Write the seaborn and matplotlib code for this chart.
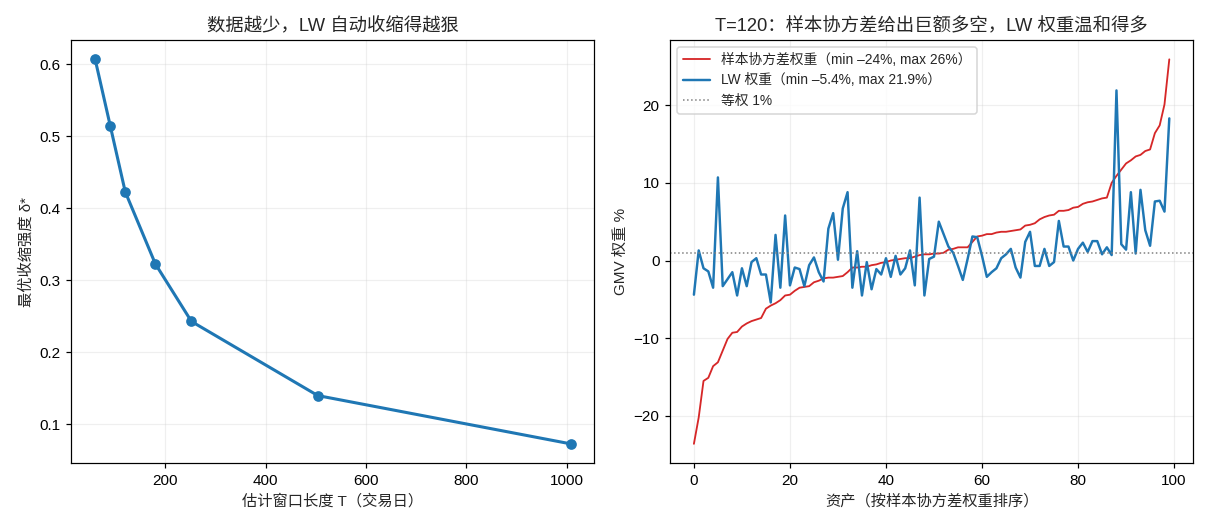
"""
LW shrinkage: intensity vs window length, and GMV weights at T=120
"""

import numpy as np
import pandas as pd
import seaborn as sns
import matplotlib.pyplot as plt

# --- Data ---
window_T = [60, 90, 120, 180, 252, 504, 1008]
delta_star = [0.607, 0.515, 0.423, 0.323, 0.243, 0.140, 0.073]

sample_w = [
    -23.6, -20.2, -15.5, -15.1, -13.6, -13.1, -11.6, -10.1, -9.3, -9.2,
    -8.5, -8.1, -7.8, -7.6, -7.4, -6.2, -5.8, -5.5, -5.1, -4.5,
    -4.4, -3.9, -3.5, -3.4, -3.3, -2.8, -2.6, -2.3, -2.2, -2.2,
    -2.1, -2.0, -1.5, -0.9, -0.9, -0.8, -0.8, -0.6, -0.5, -0.3,
    -0.2, 0.0, 0.1, 0.2, 0.3, 0.3, 0.5, 0.7, 0.8, 0.8,
    0.9, 0.9, 1.0, 1.4, 1.5, 1.7, 1.7, 1.7, 2.4, 3.1,
    3.2, 3.4, 3.4, 3.6, 3.7, 3.7, 3.8, 3.9, 4.0, 4.5,
    4.6, 4.8, 5.3, 5.6, 5.8, 5.9, 6.4, 6.4, 6.5, 6.8,
    6.9, 7.3, 7.5, 7.6, 7.8, 8.0, 8.1, 10.0, 10.9, 11.7,
    12.5, 12.9, 13.4, 13.6, 14.1, 14.3, 16.4, 17.4, 20.1, 25.9,
]
lw_w = [
    -4.4, 1.3, -1.0, -1.4, -3.5, 10.7, -3.3, -2.4, -1.5, -4.5,
    -1.0, -3.3, -0.2, 0.3, -1.8, -1.8, -5.4, 3.3, -3.5, 5.8,
    -3.2, -0.9, -1.1, -3.3, -0.6, 0.4, -1.5, -2.7, 4.1, 6.1,
    0.1, 6.7, 8.8, -3.5, 1.2, -4.5, -0.2, -3.7, -1.1, -1.8,
    0.3, -2.1, 0.6, -1.8, -1.0, 1.3, -3.2, 8.1, -4.5, 0.2,
    0.5, 5.0, 3.4, 1.8, 1.0, -0.7, -2.5, 0.2, 3.1, 3.0,
    0.6, -2.1, -1.5, -1.0, 0.3, 0.8, 1.5, -0.9, -2.2, 2.4,
    3.7, -0.7, -0.7, 1.5, -0.7, -0.2, 5.1, 1.8, 1.8, 0.0,
    1.5, 2.3, 1.1, 2.5, 2.5, 0.8, 1.7, 0.7, 21.9, 2.1,
    1.4, 8.8, 0.9, 9.1, 3.9, 1.9, 7.6, 7.7, 6.3, 18.3,
]
equal_w = 1.0

sns.set_style("ticks")
# Latin glyphs from an Arial-like face, CJK from Noto
plt.rcParams["font.family"] = ["Liberation Sans", "Noto Sans CJK SC", "DejaVu Sans"]
plt.rcParams["axes.unicode_minus"] = True

fig, axes = plt.subplots(1, 2, figsize=(11, 4.8), dpi=110)
fig.subplots_adjust(left=0.059, right=0.986, top=0.924, bottom=0.123, wspace=0.145)

# --- Left: shrinkage intensity ---
ax = axes[0]
sns.lineplot(x=window_T, y=delta_star, marker="o", markersize=7, markeredgewidth=0,
             linewidth=2, color="#1f77b4", ax=ax)
ax.set_title("数据越少，LW 自动收缩得越狠", fontsize=12)
ax.set_xlabel("估计窗口长度 T（交易日）", fontsize=10)
ax.set_ylabel("最优收缩强度 δ*", fontsize=10)
ax.grid(True, alpha=0.3)

# --- Right: GMV weights ---
ax = axes[1]
idx = np.arange(len(sample_w))
df = pd.DataFrame({"asset": idx, "sample": sample_w, "lw": lw_w})
lab_s = f"样本协方差权重（min {min(sample_w):.0f}%, max {max(sample_w):.0f}%）".replace("-", "–")
lab_lw = f"LW 权重（min {min(lw_w):.1f}%, max {max(lw_w):.1f}%）".replace("-", "–")
sns.lineplot(data=df, x="asset", y="sample", color="#d62728", linewidth=1.2, label=lab_s, ax=ax)
sns.lineplot(data=df, x="asset", y="lw", color="#1f77b4", linewidth=1.6, label=lab_lw, ax=ax)
ax.axhline(equal_w, color="gray", linestyle=":", linewidth=1, label="等权 1%")
ax.set_title("T=120：样本协方差给出巨额多空，LW 权重温和得多", fontsize=12)
ax.set_xlabel("资产（按样本协方差权重排序）", fontsize=10)
ax.set_ylabel("GMV 权重 %", fontsize=10)
ax.grid(True, alpha=0.3)
ax.legend(loc="upper left", fontsize=9)

for a in axes:
    for s in a.spines.values():
        s.set_visible(True)
        s.set_color("black")
    a.tick_params(labelsize=10, colors="black")

fig.savefig("out.png", dpi=110)
